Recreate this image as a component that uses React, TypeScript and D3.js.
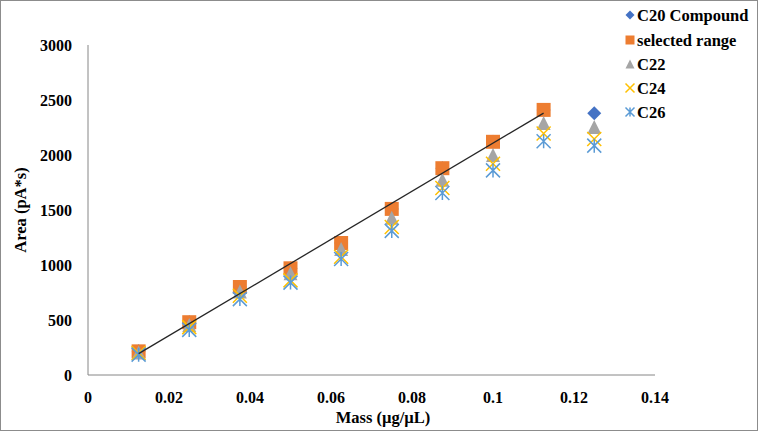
import React from 'react';
import * as d3 from 'd3';

// mass on the x axis (µg/µL)
const mass = [0.0125, 0.025, 0.0375, 0.05, 0.0625, 0.075, 0.0875, 0.1, 0.1125, 0.125];

// peak areas (pA*s)
const c20Compound = [215, 480, 800, 970, 1200, 1510, 1880, 2120, 2410, 2380];
const selectedRange = [215, 480, 800, 970, 1200, 1510, 1880, 2120, 2410];
const c22 = [205, 455, 760, 925, 1145, 1430, 1775, 2000, 2290, 2255];
const c24 = [200, 435, 720, 860, 1075, 1345, 1700, 1920, 2195, 2145];
const c26 = [185, 410, 690, 840, 1055, 1310, 1655, 1860, 2125, 2085];

const xTicks = [0, 0.02, 0.04, 0.06, 0.08, 0.1, 0.12, 0.14];
const yTicks = [0, 500, 1000, 1500, 2000, 2500, 3000];

const W = 758, H = 431;
const margin = {top: 45, right: 103, bottom: 56, left: 88};
const textStyle = {fontFamily: "'Liberation Serif', 'DejaVu Serif', serif", fontWeight: 700};

type Kind = 'diamond' | 'square' | 'triangle' | 'x' | 'star';

const series: {name: string, kind: Kind, color: string, values: number[]}[] = [
  {name: 'C20 Compound', kind: 'diamond', color: '#4472C4', values: c20Compound},
  {name: 'selected range', kind: 'square', color: '#ED7D31', values: selectedRange},
  {name: 'C22', kind: 'triangle', color: '#A5A5A5', values: c22},
  {name: 'C24', kind: 'x', color: '#FFC000', values: c24},
  {name: 'C26', kind: 'star', color: '#5B9BD5', values: c26},
];

// marker outline centred on 0,0, s = full width
function markerPath(kind: Kind, s: number) {
  const h = s / 2;
  const p = d3.path();
  if (kind === 'diamond') {
    p.moveTo(0, -h); p.lineTo(h, 0); p.lineTo(0, h); p.lineTo(-h, 0); p.closePath();
  } else if (kind === 'square') {
    p.rect(-h, -h, s, s);
  } else if (kind === 'triangle') {
    p.moveTo(0, -h); p.lineTo(h, h); p.lineTo(-h, h); p.closePath();
  } else if (kind === 'x') {
    p.moveTo(-h, -h); p.lineTo(h, h); p.moveTo(h, -h); p.lineTo(-h, h);
  } else {
    p.moveTo(-h, -h); p.lineTo(h, h); p.moveTo(h, -h); p.lineTo(-h, h);
    p.moveTo(0, -h); p.lineTo(0, h);
  }
  return p.toString();
}

function Marker({kind, color, s, x, y}: {kind: Kind, color: string, s: number, x: number, y: number}) {
  const stroked = kind === 'x' || kind === 'star';
  return (
    <path
      d={markerPath(kind, s)}
      transform={`translate(${x},${y})`}
      fill={stroked ? 'none' : color}
      stroke={stroked ? color : 'none'}
      strokeWidth={stroked ? 1.5 : 0}
    />
  );
}

export default function App() {
  const x = d3.scaleLinear().domain([0, 0.14]).range([margin.left, W - margin.right]);
  const y = d3.scaleLinear().domain([0, 3000]).range([H - margin.bottom, margin.top]);

  // least squares fit over the selected range
  const fx = mass.slice(0, selectedRange.length);
  const mx = d3.mean(fx)!;
  const my = d3.mean(selectedRange)!;
  const slope = d3.sum(fx, (v, i) => (v - mx) * (selectedRange[i] - my)) / d3.sum(fx, v => (v - mx) ** 2);
  const icpt = my - slope * mx;
  const fitEnds = [fx[0], fx[fx.length - 1]];
  const fitLine = d3.line<number>().x(v => x(v)).y(v => y(icpt + slope * v))(fitEnds)!;

  const legendRows = [15, 40, 64, 88, 112];

  return (
    <svg width={W} height={H} style={{position: 'absolute', left: 0, top: 0, background: '#fff'}}>
      <rect x={0.5} y={0.5} width={W - 1} height={H - 1} fill="#fff" stroke="#8c8c8c" />

      {/* axes */}
      <line x1={x(0)} x2={x(0)} y1={y(3000)} y2={y(0)} stroke="#868686" />
      <line x1={x(0)} x2={x(0.14)} y1={y(0)} y2={y(0)} stroke="#868686" />

      {yTicks.map(t => (
        <text key={t} x={72} y={y(t)} dy="0.35em" textAnchor="end" fontSize={16} style={textStyle}>{t}</text>
      ))}
      {xTicks.map(t => (
        <text key={t} x={x(t)} y={403} textAnchor="middle" fontSize={16} style={textStyle}>{d3.format('~g')(t)}</text>
      ))}

      <text x={383} y={423} textAnchor="middle" fontSize={16.5} style={textStyle}>Mass (µg/µL)</text>
      <text transform={`translate(26,${(y(0) + y(3000)) / 2}) rotate(-90)`} textAnchor="middle" fontSize={16.5} style={textStyle}>Area (pA*s)</text>

      {/* data */}
      {series.map(s => (
        <g key={s.name}>
          {s.values.map((v, i) => (
            <Marker key={i} kind={s.kind} color={s.color} s={14} x={x(mass[i])} y={y(v)} />
          ))}
        </g>
      ))}

      <path d={fitLine} stroke="#262626" strokeWidth={1.3} fill="none" />

      {/* legend */}
      {series.map((s, i) => (
        <g key={s.name}>
          <Marker kind={s.kind} color={s.color} s={9} x={630} y={legendRows[i]} />
          <text x={637} y={legendRows[i]} dy="0.35em" fontSize={16.5} style={textStyle}>{s.name}</text>
        </g>
      ))}
    </svg>
  );
}
